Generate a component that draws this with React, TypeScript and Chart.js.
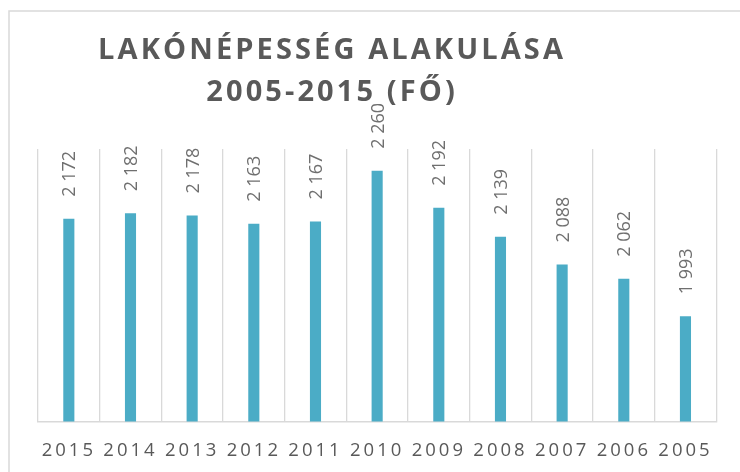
import React, { useEffect, useRef } from "react";
import { Chart, registerables } from "chart.js";

Chart.register(...registerables);

const categories = ["2015", "2014", "2013", "2012", "2011", "2010", "2009", "2008", "2007", "2006", "2005"];
const population = [2172, 2182, 2178, 2163, 2167, 2260, 2192, 2139, 2088, 2062, 1993];
const titleLines = ["LAKÓNÉPESSÉG ALAKULÁSA", "2005-2015 (FŐ)"];
const yMin = 1800;
const yMax = 2300;

const BAR_COLOR = "#4BACC6";
const GRID_COLOR = "#d9d9d9";
const TEXT_DARK = "#595959";
const LABEL_COLOR = "#6f6f6f";

function fmt(v: number): string {
  return String(v).replace(/\B(?=(\d{3})+(?!\d))/g, " ");
}

const framePlugin = {
  id: "frame",
  beforeDraw(chart: any) {
    const ctx = chart.ctx;
    ctx.save();
    ctx.strokeStyle = GRID_COLOR;
    ctx.lineWidth = 1.5;
    ctx.strokeRect(9, 11, 900, 700);
    ctx.restore();
    // letter spacing for axis tick labels
    (ctx as any).letterSpacing = "3px";
  },
  beforeDatasetsDraw(chart: any) {
    (chart.ctx as any).letterSpacing = "0px";
  },
  afterDatasetsDraw(chart: any) {
    const ctx = chart.ctx;
    const meta = chart.getDatasetMeta(0);
    const ds = chart.data.datasets[0];
    ctx.save();
    (ctx as any).letterSpacing = "0px";
    ctx.fillStyle = LABEL_COLOR;
    const size = 18;
    ctx.font = `${size}px 'Open Sans'`;
    ctx.textAlign = "left";
    ctx.textBaseline = "alphabetic";
    meta.data.forEach((bar: any, i: number) => {
      const v = ds.data[i] as number;
      ctx.save();
      ctx.translate(bar.x, bar.y - 22);
      ctx.rotate(-Math.PI / 2);
      ctx.fillText(fmt(v), 0, (size * 0.714) / 2);
      ctx.restore();
    });
    ctx.restore();
  },
  afterDraw(chart: any) {
    const ctx = chart.ctx;
    ctx.save();
    const s = 3.1;
    (ctx as any).letterSpacing = `${s}px`;
    ctx.fillStyle = TEXT_DARK;
    ctx.font = "bold 29px 'Open Sans'";
    ctx.textAlign = "left";
    ctx.textBaseline = "alphabetic";
    const cx = 330.5;
    const baselines = [59, 101];
    titleLines.forEach((line, i) => {
      const w = ctx.measureText(line).width;
      ctx.fillText(line, cx - (w - s) / 2, baselines[i]);
    });
    ctx.restore();
    (ctx as any).letterSpacing = "0px";
  },
};

export default function App() {
  const ref = useRef<HTMLCanvasElement | null>(null);

  useEffect(() => {
    if (!ref.current) return;
    const chart = new Chart(ref.current, {
      type: "bar",
      data: {
        labels: categories,
        datasets: [
          {
            data: population,
            backgroundColor: BAR_COLOR,
            borderWidth: 0,
            categoryPercentage: 1,
            barPercentage: 0.18,
          },
        ],
      },
      options: {
        animation: false,
        responsive: false,
        maintainAspectRatio: false,
        layout: { padding: { left: 38, right: 23.7, top: 149, bottom: 10.3 } },
        plugins: {
          legend: { display: false },
          title: { display: false },
          tooltip: { enabled: false },
        },
        scales: {
          x: {
            offset: true,
            grid: {
              display: true,
              offset: true,
              color: GRID_COLOR,
              lineWidth: 1.3,
              drawTicks: true,
              tickLength: 18,
              tickColor: "rgba(0,0,0,0)",
            },
            border: { display: true, color: GRID_COLOR, width: 1.5 },
            ticks: {
              padding: 0,
              color: TEXT_DARK,
              font: { family: "'Open Sans'", size: 18.5, lineHeight: 1.2 },
              maxRotation: 0,
              autoSkip: false,
            },
          },
          y: {
            display: false,
            min: yMin,
            max: yMax,
          },
        },
      },
      plugins: [framePlugin],
    });
    return () => chart.destroy();
  }, []);

  return (
    <div style={{ position: "fixed", left: 0, top: 0, width: 740, height: 472, background: "#fff" }}>
      <canvas ref={ref} width={740} height={472} style={{ display: "block", width: 740, height: 472 }} />
    </div>
  );
}
